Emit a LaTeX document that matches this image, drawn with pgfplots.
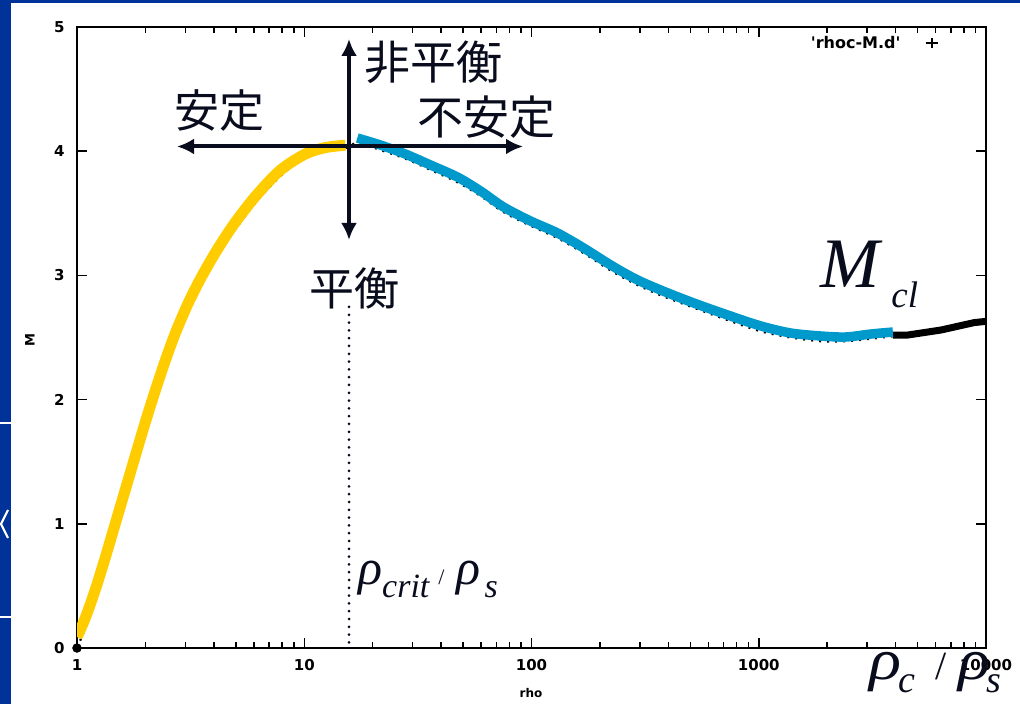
\documentclass[border=0pt]{standalone}
\usepackage{pgfplots}
\pgfplotsset{compat=1.18}
\usepackage{pgfplotstable}
\usepackage{graphicx}
\usepackage{fontspec}
\setmainfont{Liberation Serif}
\newfontfamily\cjk{Noto Sans CJK JP}
\newfontfamily\tickf{DejaVu Sans}
\usetikzlibrary{arrows.meta}

\definecolor{slideblue}{RGB}{0,51,153}
\definecolor{stableyellow}{RGB}{255,204,0}
\definecolor{unstableblue}{RGB}{0,153,204}
\definecolor{ink}{RGB}{8,12,28}

% computed mass against central density contrast
\pgfplotstableread{
x y
1 0
1.117 0.21
1.236 0.44
1.368 0.70
1.514 0.97
1.676 1.25
1.855 1.52
2.053 1.79
2.272 2.05
2.515 2.29
2.784 2.51
3.144 2.74
3.587 2.95
4.176 3.16
5.013 3.38
6.267 3.61
8.074 3.82
10.40 3.96
12.75 4.01
15.62 4.03
17.12 4.07
21.61 4.01
27.86 3.94
35.91 3.85
47.21 3.75
59.63 3.64
75.28 3.51
98.99 3.40
130.2 3.30
169.5 3.18
222.9 3.04
287.2 2.93
370.2 2.84
517.2 2.74
730.0 2.64
1020 2.55
1384 2.50
1876 2.47
2417 2.47
3115 2.49
3893 2.51
4530 2.52
6330 2.56
8880 2.62
10000 2.63
}\rhocM

% high-contrast tail of the same run
\pgfplotstableread{
x y
3893 2.52
4530 2.52
6330 2.56
8880 2.62
10000 2.63
}\rhocMtail

% stable branch
\pgfplotstableread{
x y
1.000 0.089
1.085 0.237
1.200 0.462
1.328 0.720
1.470 0.994
1.627 1.267
1.801 1.541
1.993 1.811
2.206 2.068
2.442 2.310
2.703 2.531
3.052 2.758
3.483 2.968
4.054 3.180
4.867 3.404
6.084 3.634
7.839 3.846
10.10 3.977
12.38 4.029
15.16 4.048
}\stablebranch

% unstable branch
\pgfplotstableread{
x y
17.12 4.106
21.61 4.050
27.86 3.977
35.91 3.889
47.21 3.792
59.63 3.680
75.28 3.551
98.99 3.438
130.2 3.341
169.5 3.221
222.9 3.084
287.2 2.971
370.2 2.882
517.2 2.778
730.0 2.681
1020 2.593
1384 2.536
1876 2.512
2417 2.504
3115 2.528
3893 2.544
}\unstablebranch

\newcommand{\tickfont}[1]{\tickf\bfseries\fontsize{#1}{#1}\selectfont}

\begin{document}
\begin{tikzpicture}[x=1bp,y=1bp]
\useasboundingbox (0,0) rectangle (1020,704);
\clip (0,0) rectangle (1020,704);
\fill[white] (0,0) rectangle (1020,704);

\begin{axis}[
  at={(77bp,56bp)}, anchor=south west,
  scale only axis, width=909bp, height=621bp,
  xmode=log, xmin=1, xmax=10000, ymin=0, ymax=5,
  xtick={1,10,100,1000,10000},
  xticklabels={1,10,100,1000,10000},
  minor xtick={2,3,4,5,6,7,8,9,20,30,40,50,60,70,80,90,200,300,400,500,600,700,800,900,2000,3000,4000,5000,6000,7000,8000,9000},
  ytick={0,1,2,3,4,5},
  yticklabels={0,1,2,3,4,5},
  /pgf/number format/assume math mode=true,
  major tick length=10bp, minor tick length=6bp,
  every tick/.style={black, line width=1.5bp},
  axis line style={line width=2bp, black},
  ticklabel style={font=\tickfont{15bp}},
  yticklabel style={xshift=-9bp},
  xticklabel style={yshift=-8bp},
  legend plot pos=right,
  legend style={at={(0.948,0.974)}, anchor=east, draw=none, fill=none,
    inner sep=0pt, font=\tickfont{16bp}, legend cell align=right},
  legend image code/.code={
    \path (0,0);
    \draw[black, line width=1.8bp, solid] (22bp,0) -- (34bp,0) (28bp,-5bp) -- (28bp,5bp);
  },
]
\addplot[black, line width=2.2bp, dash pattern=on 2bp off 6bp, smooth] table {\rhocM};
\addlegendentry{\textquotesingle rhoc-M.d\textquotesingle}
\addplot[black, line width=7bp, line cap=butt, forget plot] table {\rhocMtail};
\addplot[only marks, mark=*, mark size=4.5bp, black, forget plot] coordinates {(1,0)};
\addplot[stableyellow, line width=11bp, line cap=butt, line join=round, smooth, forget plot] table {\stablebranch};
\addplot[unstableblue, line width=9.5bp, line cap=butt, line join=round, smooth, forget plot] table {\unstablebranch};
\end{axis}

% slide frame
\fill[slideblue] (0,0) rectangle (11,704);
\fill[slideblue] (0,701) rectangle (1020,704);
\draw[white, line width=1.5bp] (0,281) -- (11,281) (0,87) -- (11,87);
\draw[white, line width=2.2bp] (8,194) -- (1,180) -- (8,166);

% axis titles
\node[rotate=90, font=\tickfont{13bp}] at (30,364) {M};
\node[anchor=north, font=\tickfont{12bp}, inner sep=0] at (531,16) {rho};

% stability arrows
\draw[ink, line width=4bp, {Latex[length=17bp,width=16bp]}-{Latex[length=17bp,width=16bp]}] (177,557.5) -- (523,557.5);
\draw[ink, line width=4bp, {Latex[length=17bp,width=16bp]}-{Latex[length=17bp,width=16bp]}] (349,665) -- (349,464);
\draw[ink, line width=3bp, line cap=round, dash pattern=on 0bp off 7.8bp] (349,397) -- (349,58);

\node[ink, font=\cjk\fontsize{45bp}{45bp}\selectfont, inner sep=0] at (219,594) {安定};
\node[ink, font=\cjk\fontsize{46bp}{46bp}\selectfont, inner sep=0] at (433,642) {非平衡};
\node[ink, font=\cjk\fontsize{46bp}{46bp}\selectfont, inner sep=0] at (486,587) {不安定};
\node[ink, font=\cjk\fontsize{45bp}{45bp}\selectfont, inner sep=0] at (354,416) {平衡};

% density labels
\node[ink, anchor=base west, inner sep=0] at (358,119) {\fontsize{50bp}{50bp}\selectfont\itshape ρ\raisebox{-13bp}{\fontsize{34bp}{34bp}\selectfont crit}\hspace{9bp}{\upshape\fontsize{22bp}{22bp}\selectfont /}\hspace{12bp}ρ\hspace{4bp}\raisebox{-13bp}{\fontsize{34bp}{34bp}\selectfont s}};
\node[ink, anchor=base west, inner sep=0] at (820,416) {\fontsize{71bp}{71bp}\selectfont\itshape M\hspace{12bp}\raisebox{-20bp}{\fontsize{37bp}{37bp}\selectfont cl}};
\node[ink, anchor=base west, inner sep=0] at (869,24) {\fontsize{58bp}{58bp}\selectfont\itshape \scalebox{1.15}[1]{ρ}\hspace{-3bp}\raisebox{-13bp}{\fontsize{38bp}{38bp}\selectfont c}\hspace{20bp}{\upshape\fontsize{40bp}{40bp}\selectfont /}\hspace{12bp}\scalebox{1.15}[1]{ρ}\hspace{-4bp}\raisebox{-13bp}{\fontsize{38bp}{38bp}\selectfont s}};
\end{tikzpicture}
\end{document}
